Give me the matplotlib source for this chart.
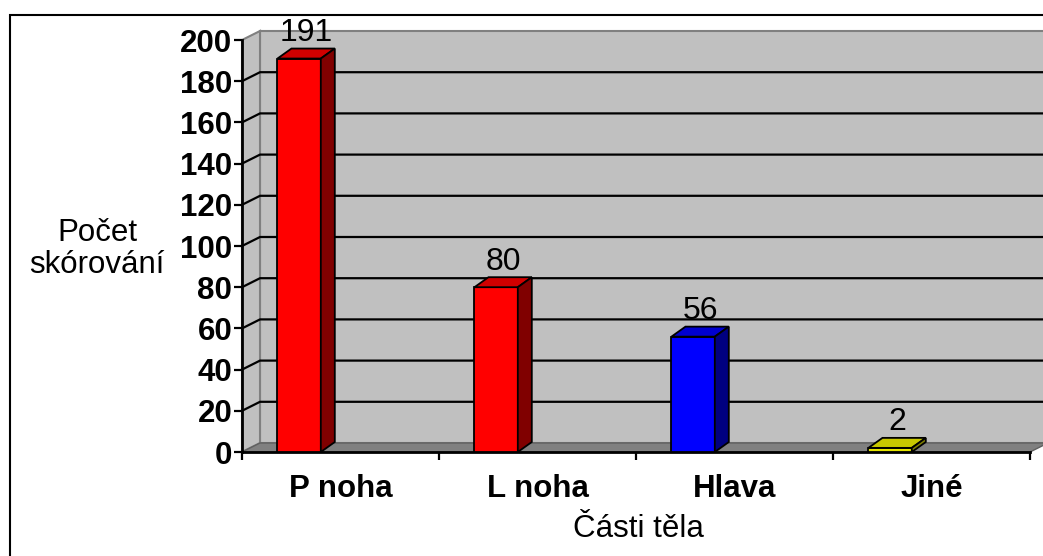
import matplotlib
matplotlib.use('Agg')
import matplotlib.pyplot as plt
from matplotlib.patches import Polygon, Rectangle
from matplotlib.lines import Line2D
from matplotlib.transforms import IdentityTransform

# ---- data ----
categories = ['P noha', 'L noha', 'Hlava', 'Jiné']
values = [191, 80, 56, 2]
front_colors = ['#FF0000', '#FF0000', '#0000FF', '#E6E600']
top_colors = ['#D00000', '#D00000', '#0000D0', '#C8C800']
side_colors = ['#800000', '#800000', '#000080', '#808000']
y_ticks = list(range(0, 201, 20))
y_title = 'Počet\nskórování'
x_title = 'Části těla'

plt.rcParams['font.family'] = ['Liberation Sans', 'DejaVu Sans']

W, H, DPI = 1043, 556, 100
fig = plt.figure(figsize=(W / DPI, H / DPI), dpi=DPI)
fig.patch.set_facecolor('white')

ax = fig.add_axes([242 / W, (H - 452) / H, 788 / W, 412 / H])
ax.set_xlim(-0.5, len(categories) - 0.5)
ax.set_ylim(0, 200)
ax.patch.set_visible(False)

WD = (18, 9)    # wall depth offset (px)
BD = (14, 10)   # bar depth offset (px)
ID = IdentityTransform()


def P(x, y, off=(0, 0)):
    px, py = ax.transData.transform((x, y))
    return (px + off[0], py + off[1])


x0, x1 = ax.get_xlim()
ymax = ax.get_ylim()[1]

# back wall
ax.add_patch(Polygon([P(x0, 0, WD), P(x0, ymax, WD), P(x1, ymax, WD), P(x1, 0, WD)],
                     closed=True, facecolor='#C0C0C0', edgecolor='#808080', lw=1.5,
                     transform=ID, clip_on=False, zorder=0.5))
# side wall
ax.add_patch(Polygon([P(x0, 0), P(x0, ymax), P(x0, ymax, WD), P(x0, 0, WD)],
                     closed=True, facecolor='#C0C0C0', edgecolor='#808080', lw=1.5,
                     transform=ID, clip_on=False, zorder=0.6))
# gridlines
for v in y_ticks[1:-1]:
    pts = [P(x0, v), P(x0, v, WD), P(x1, v, WD)]
    ax.add_line(Line2D([p[0] for p in pts], [p[1] for p in pts], color='black', lw=1.6,
                       transform=ID, clip_on=False, zorder=1))
# floor
ax.add_patch(Polygon([P(x0, 0), P(x1, 0), P(x1, 0, WD), P(x0, 0, WD)],
                     closed=True, facecolor='#808080', edgecolor='#606060', lw=1.0,
                     transform=ID, clip_on=False, zorder=1.5))

# bars
bw = 0.22
for i, v in enumerate(values):
    bx0 = i - 0.32
    bx1 = bx0 + bw
    ax.bar(bx0, v, width=bw, align='edge', color=front_colors[i], edgecolor='black',
           lw=1.3, zorder=3, clip_on=False)
    ax.add_patch(Polygon([P(bx0, v), P(bx1, v), P(bx1, v, BD), P(bx0, v, BD)], closed=True,
                         facecolor=top_colors[i], edgecolor='black', lw=1.3,
                         transform=ID, clip_on=False, zorder=3.1))
    ax.add_patch(Polygon([P(bx1, 0), P(bx1, v), P(bx1, v, BD), P(bx1, 0, BD)], closed=True,
                         facecolor=side_colors[i], edgecolor='black', lw=1.3,
                         transform=ID, clip_on=False, zorder=3.1))
    tx, ty = P((bx0 + bx1) / 2, v, (BD[0] / 2, BD[1] + 0.5))
    ax.text(tx, ty, str(v), transform=ID, ha='center', va='bottom', fontsize=23,
            color='black', zorder=4)

# axes spines and ticks
for s in ['top', 'right']:
    ax.spines[s].set_visible(False)
ax.spines['left'].set_linewidth(2)
ax.spines['bottom'].set_linewidth(2)
ax.spines['left'].set_zorder(3.5)
ax.spines['bottom'].set_zorder(2)

ax.set_yticks(y_ticks)
ax.set_yticklabels([str(t) for t in y_ticks], fontsize=22.5, fontweight='bold')
ax.tick_params(axis='y', direction='out', length=5.8, width=1.6, pad=1.2)

ax.set_xticks([i - 0.5 for i in range(len(categories) + 1)])
ax.set_xticklabels([''] * (len(categories) + 1))
ax.set_xticks(list(range(len(categories))), minor=True)
ax.set_xticklabels(categories, minor=True, fontsize=22.5, fontweight='bold')
ax.tick_params(axis='x', which='major', direction='out', length=5.8, width=1.6)
ax.tick_params(axis='x', which='minor', length=0, pad=15.5)

fig.text(97 / W, 1 - 249 / H, y_title, ha='center', va='center', fontsize=22.5,
         linespacing=1.12)
fig.text(638 / W, 1 - 529 / H, x_title, ha='center', va='center', fontsize=22.5)

# outer frame
fig.add_artist(Rectangle((10 / W, -0.2), 1.5, 1 - 15 / H + 0.2, transform=fig.transFigure,
                         fill=False, edgecolor='black', lw=1.5, clip_on=False))

fig.savefig('out.png', dpi=DPI)
